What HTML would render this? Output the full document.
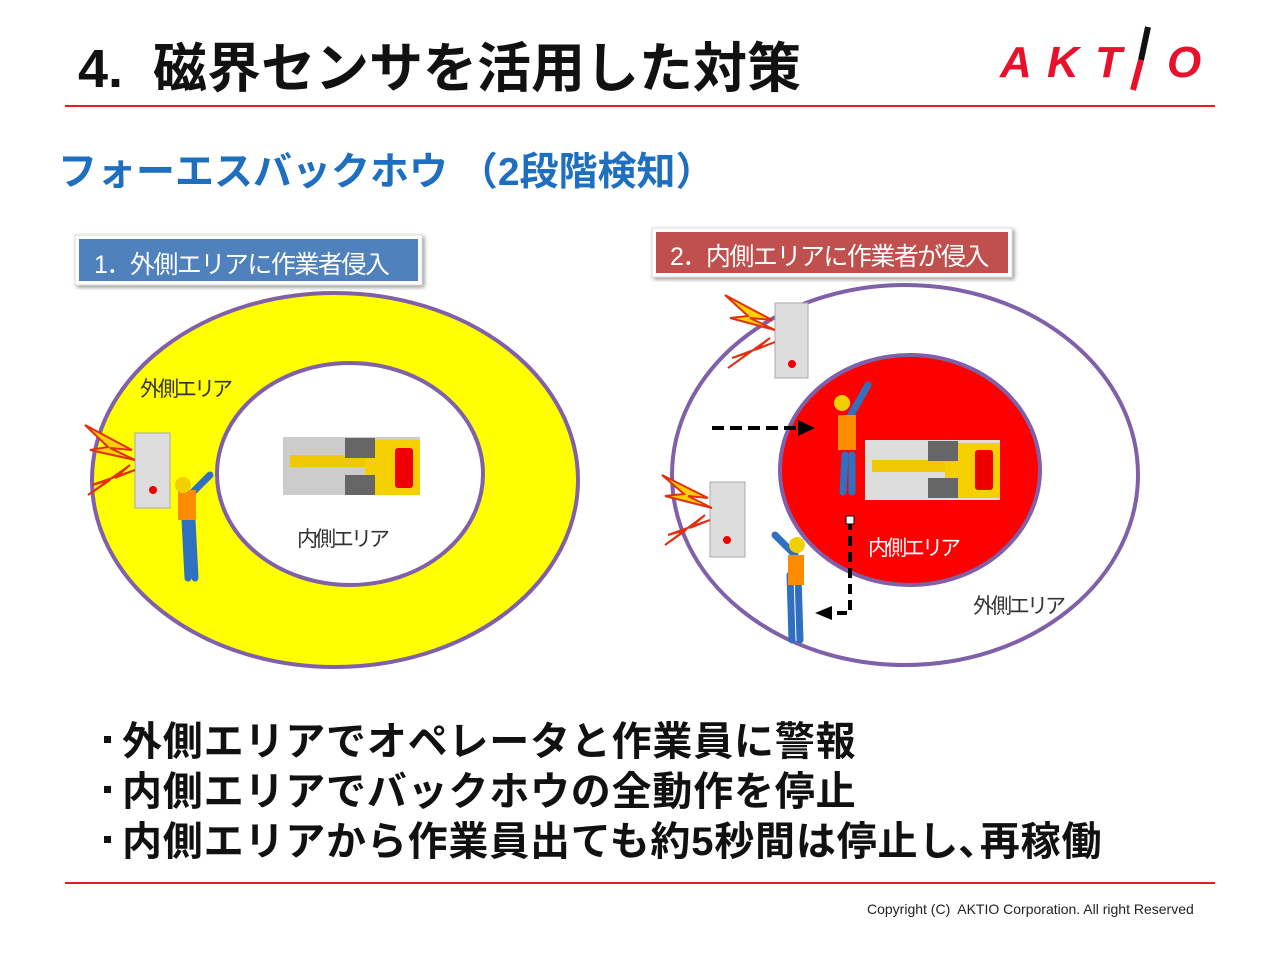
<!DOCTYPE html>
<html><head><meta charset="utf-8"><style>
body{margin:0;width:1280px;height:960px;background:#fff;position:relative;overflow:hidden;font-family:"Liberation Sans","Noto Sans CJK JP",sans-serif}
.a{position:absolute;white-space:nowrap}
.b{position:absolute;left:122px;font-size:40px;font-weight:bold;color:#111;white-space:nowrap;letter-spacing:0.8px}
.d{position:absolute;left:104px;width:7px;height:7px;background:#111}
</style></head><body>
<div class="a" style="left:78px;top:24px;font-size:54px;font-weight:bold;color:#111">4.&nbsp; 磁界センサを活用した対策</div>
<svg class="a" style="left:995px;top:22px" width="215" height="75">
<g fill="#e8102a" font-family="Liberation Sans" font-weight="bold" font-style="italic" font-size="44"><text x="5" y="55">A</text><text x="52" y="55">K</text><text x="100" y="55">T</text><text x="172" y="55">O</text></g>
<line x1="153" y1="5" x2="146" y2="38" stroke="#111" stroke-width="6"/><line x1="146" y1="38" x2="138" y2="68" stroke="#e8102a" stroke-width="6"/>
</svg>
<div class="a" style="left:65px;top:105px;width:1150px;height:2px;background:#e02020"></div>
<div class="a" style="left:58px;top:141px;font-size:39px;font-weight:bold;color:#1f6fc0">フォーエスバックホウ （2段階検知）</div>
<svg class="a" style="left:0;top:0" width="1280" height="960">
<defs><filter id="s"><feDropShadow dx="2" dy="2" stdDeviation="2" flood-opacity="0.4"/></filter></defs>
<ellipse cx="335" cy="480" rx="243" ry="187" fill="#ffff00" stroke="#8060a8" stroke-width="4"/>
<ellipse cx="350" cy="474" rx="133" ry="111" fill="#fff" stroke="#8060a8" stroke-width="4"/>
<ellipse cx="905" cy="475" rx="233" ry="190" fill="#fff" stroke="#8060a8" stroke-width="4"/>
<ellipse cx="910" cy="470" rx="130" ry="115" fill="#ff0000" stroke="#8060a8" stroke-width="4"/>
<rect x="75" y="235" width="347" height="50" fill="#fff" stroke="#ddd" filter="url(#s)"/>
<rect x="79" y="239" width="339" height="42" fill="#4f81bd"/>
<rect x="652" y="228" width="360" height="49" fill="#fff" stroke="#ddd" filter="url(#s)"/>
<rect x="656" y="232" width="352" height="41" fill="#c0504d"/>
<g><rect x="283" y="437" width="137" height="58" fill="#ccc"/><rect x="290" y="455" width="100" height="12" fill="#f0c800"/><rect x="365" y="440" width="55" height="55" fill="#f5d000"/><rect x="395" y="448" width="18" height="40" fill="#e00" rx="3"/><rect x="345" y="438" width="30" height="20" fill="#666"/><rect x="345" y="475" width="30" height="20" fill="#666"/></g>
<g><rect x="865" y="440" width="135" height="60" fill="#ddd"/><rect x="872" y="460" width="100" height="12" fill="#f0c800"/><rect x="945" y="443" width="55" height="55" fill="#f5d000"/><rect x="975" y="450" width="18" height="40" fill="#e00" rx="3"/><rect x="928" y="441" width="30" height="20" fill="#666"/><rect x="928" y="478" width="30" height="20" fill="#666"/></g>
<g fill="#ddd" stroke="#aaa"><rect x="135" y="433" width="35" height="75"/><rect x="775" y="303" width="33" height="75"/><rect x="710" y="482" width="35" height="75"/></g>
<g fill="#e00"><circle cx="153" cy="490" r="4"/><circle cx="792" cy="364" r="4"/><circle cx="727" cy="540" r="4"/></g>
<g fill="#ffd000" stroke="#e03010" stroke-width="2">
<polygon points="85,425 132,450 110,448 135,460 90,450 108,447"/><polygon points="88,495 130,465 115,478 135,470 92,485 110,480"/>
<polygon points="725,295 772,320 750,318 775,330 730,318 748,316"/><polygon points="728,368 770,338 755,350 775,342 732,358 750,352"/>
<polygon points="662,475 708,498 688,496 712,508 665,496 684,494"/><polygon points="665,545 705,515 690,528 710,520 668,535 686,530"/>
</g>
<g stroke="#3070c0" stroke-width="7" stroke-linecap="round" fill="none">
<path d="M185 520 L188 578 M192 520 L195 578 M190 495 L210 475"/>
<path d="M845 455 L843 492 M852 455 L852 492 M848 420 L868 385"/>
<path d="M790 575 L792 640 M798 575 L800 640 M795 555 L775 535"/>
</g>
<g fill="#ff8c00"><rect x="178" y="490" width="18" height="30"/><rect x="838" y="415" width="18" height="35"/><rect x="788" y="555" width="16" height="30"/></g>
<g fill="#f0d000"><circle cx="183" cy="485" r="8"/><circle cx="842" cy="403" r="8"/><circle cx="797" cy="545" r="8"/></g>
<line x1="712" y1="428" x2="800" y2="428" stroke="#000" stroke-width="4" stroke-dasharray="12,6"/>
<polygon points="798,420 815,428 798,436" fill="#000"/>
<path d="M850 520 L850 613 L830 613" stroke="#000" stroke-width="4" fill="none" stroke-dasharray="10,6"/>
<polygon points="832,606 815,613 832,620" fill="#000"/>
<rect x="846" y="516" width="8" height="8" fill="#fff" stroke="#000"/>
</svg>
<div class="a" style="left:94px;top:245px;font-size:25px;color:#fff;letter-spacing:-1.5px">1．外側エリアに作業者侵入</div>
<div class="a" style="left:670px;top:237px;font-size:25px;color:#fff;letter-spacing:-1.5px">2．内側エリアに作業者が侵入</div>
<div class="a" style="left:140px;top:373px;font-size:21px;color:#333;letter-spacing:-3px">外側エリア</div>
<div class="a" style="left:297px;top:523px;font-size:21px;color:#333;letter-spacing:-3px">内側エリア</div>
<div class="a" style="left:868px;top:532px;font-size:21px;color:#fff;letter-spacing:-3px">内側エリア</div>
<div class="a" style="left:973px;top:590px;font-size:21px;color:#333;letter-spacing:-3px">外側エリア</div>
<div class="d" style="top:736px"></div><div class="d" style="top:786px"></div><div class="d" style="top:836px"></div>
<div class="b" style="top:709px">外側エリアでオペレータと作業員に警報</div>
<div class="b" style="top:759px">内側エリアでバックホウの全動作を停止</div>
<div class="b" style="top:809px">内側エリアから作業員出ても約5秒間は停止し､再稼働</div>
<div class="a" style="left:65px;top:882px;width:1150px;height:2px;background:#e02020"></div>
<div class="a" style="left:867px;top:901px;font-size:14px;color:#222">Copyright (C)&nbsp; AKTIO Corporation. All right Reserved</div>
</body></html>
